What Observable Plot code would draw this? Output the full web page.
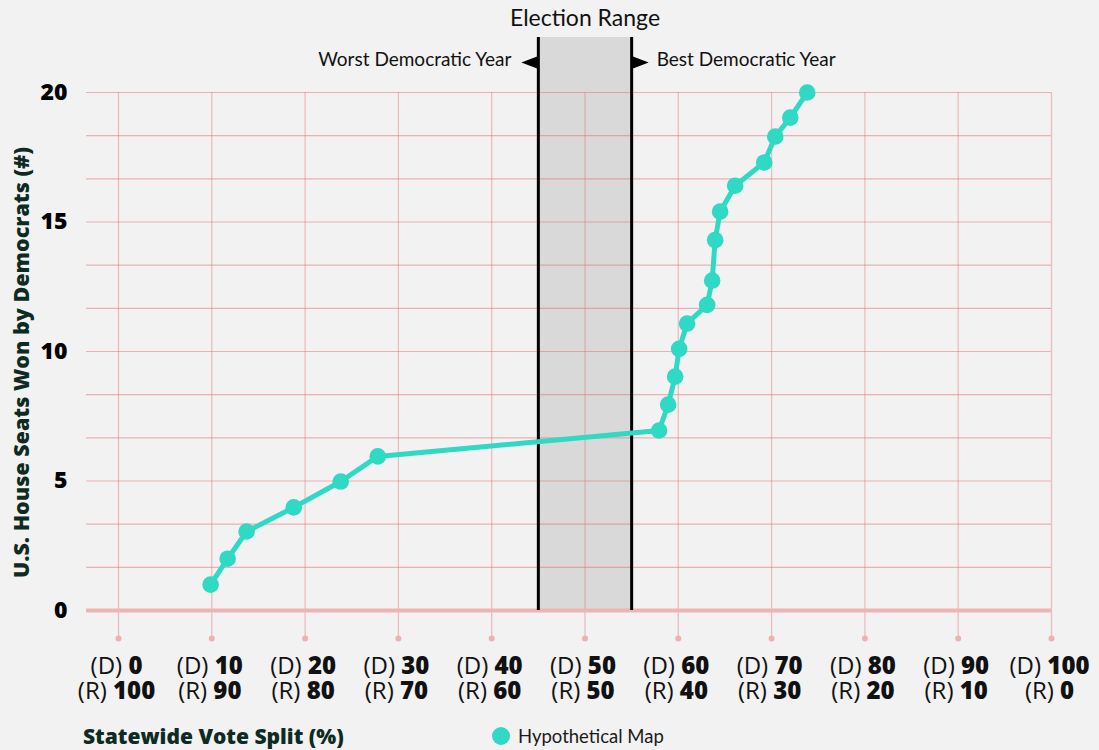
<!DOCTYPE html>
<html>
<head>
<meta charset="utf-8">
<script src="https://cdn.jsdelivr.net/npm/d3@7"></script>
<script src="https://cdn.jsdelivr.net/npm/@observablehq/plot@0.6"></script>
<style>
  html, body { margin: 0; padding: 0; background: #f2f2f2; }
  body { width: 1099px; height: 750px; overflow: hidden; font-family: Lato, "Open Sans", sans-serif; }
  #chart svg { display: block; }
  .footer { position: relative; height: 35px; }
  .xlabel { position: absolute; left: 83px; top: 21px; transform: translateY(-50%); font-family: "Open Sans", sans-serif; font-size: 21px; font-weight: 800; color: #0d2b22; white-space: nowrap; }
  .legend { position: absolute; left: 492px; top: 21px; transform: translateY(-50%); display: flex; align-items: center; font-size: 18.5px; color: #1a1a1a; }
  .legend .sw { width: 18px; height: 18px; border-radius: 50%; background: #2fd9c4; margin-right: 8px; }
</style>
</head>
<body>
<div id="chart"></div>
<div class="footer">
  <div class="xlabel">Statewide Vote Split (%)</div>
  <div class="legend"><span class="sw"></span><span>Hypothetical Map</span></div>
</div>
<script>
// ---- data ----
const seriesName = "Hypothetical Map";
const voteShareD = [9.87, 11.7, 13.73, 18.78, 23.82, 27.79, 57.94, 58.91, 59.66, 60.09, 60.94, 63.09, 63.63, 63.95, 64.48, 66.09, 69.21, 70.39, 72.0, 73.82];
const seatsWon   = [1.0, 2.0, 3.05, 3.98, 4.98, 5.95, 6.95, 7.95, 9.03, 10.1, 11.08, 11.8, 12.74, 14.3, 15.4, 16.4, 17.3, 18.3, 19.03, 20.0];
const xTicks = [0, 10, 20, 30, 40, 50, 60, 70, 80, 90, 100];
const yTicks = [0, 5, 10, 15, 20];
const yGrid  = [0, 5/3, 10/3, 5, 20/3, 25/3, 10, 35/3, 40/3, 15, 50/3, 55/3, 20];
const electionRange = [45, 55];
const rangeTitle = "Election Range";
const worstLabel = "Worst Democratic Year";
const bestLabel  = "Best Democratic Year";
const yLabel = "U.S. House Seats Won by Democrats (#)";

const points = voteShareD.map((v, i) => ({vote: v, seats: seatsWon[i], series: seriesName}));
const teal = "#2fd9c4";
const gridColor = "#e36f6f";
const boldFont = "'Open Sans', sans-serif";

const leftArrow  = {draw(ctx) { ctx.moveTo(-17, 0); ctx.lineTo(0, -6.5); ctx.lineTo(0, 6.5); ctx.closePath(); }};
const rightArrow = {draw(ctx) { ctx.moveTo(17, 0); ctx.lineTo(0, -6.5); ctx.lineTo(0, 6.5); ctx.closePath(); }};

const chart = Plot.plot({
  width: 1099,
  height: 715,
  marginLeft: 118,
  marginRight: 48,
  marginTop: 92,
  marginBottom: 105,
  x: {domain: [0, 100], axis: null},
  y: {domain: [0, 20], axis: null},
  style: {background: "transparent", fontFamily: "Lato, 'Open Sans', sans-serif", overflow: "visible"},
  marks: [
    Plot.rect([electionRange], {x1: d => d[0], x2: d => d[1], fill: "#d9d9d9", insetTop: -55}),
    Plot.ruleY(yGrid, {y: d => d, stroke: gridColor, strokeOpacity: 0.5, strokeWidth: 1.2, insetLeft: -32}),
    Plot.ruleX(xTicks, {x: d => d, stroke: gridColor, strokeOpacity: 0.4, strokeWidth: 1.3, insetBottom: -28}),
    Plot.dot(xTicks, {x: d => d, y: 0, dy: 28, r: 3, fill: "#f0b0b0"}),
    Plot.ruleY([0], {y: d => d, stroke: "#f0b3b3", strokeWidth: 4, insetLeft: -32}),
    Plot.ruleX(electionRange, {x: d => d, stroke: "#000", strokeWidth: 3, insetTop: -55}),
    Plot.dot([electionRange[0]], {x: d => d, frameAnchor: "top", dy: -30, symbol: leftArrow, fill: "#000", stroke: "none", r: 8}),
    Plot.dot([electionRange[1]], {x: d => d, frameAnchor: "top", dy: -30, symbol: rightArrow, fill: "#000", stroke: "none", r: 8}),
    Plot.text([rangeTitle], {x: (electionRange[0] + electionRange[1]) / 2, frameAnchor: "top", lineAnchor: "middle", dy: -74, fontSize: 23, fill: "#111"}),
    Plot.text([worstLabel], {x: electionRange[0], frameAnchor: "top", lineAnchor: "middle", dy: -33, dx: -27, textAnchor: "end", fontSize: 19, fill: "#111"}),
    Plot.text([bestLabel], {x: electionRange[1], frameAnchor: "top", lineAnchor: "middle", dy: -33, dx: 25, textAnchor: "start", fontSize: 19, fill: "#111"}),
    Plot.line(points, {x: "vote", y: "seats", stroke: teal, strokeWidth: 5}),
    Plot.dot(points, {x: "vote", y: "seats", r: 8.3, fill: teal}),
    Plot.axisY(yTicks, {tickSize: 0, tickPadding: 51, fontSize: 23, fontWeight: 800, fontFamily: boldFont, fill: "#000", label: null}),
    Plot.text([yLabel], {frameAnchor: "left", textAnchor: "middle", lineAnchor: "middle", rotate: -90, dx: -96, dy: 11, fontSize: 21.5, fontWeight: 800, fontFamily: boldFont, fill: "#0d2b22"}),
    Plot.text(xTicks, {x: d => d, frameAnchor: "bottom", lineAnchor: "middle", dy: 56, dx: -2, text: d => `(D) ${d}`, fontSize: 24, fontFamily: boldFont, fill: "#111"}),
    Plot.text(xTicks, {x: d => d, frameAnchor: "bottom", lineAnchor: "middle", dy: 81, dx: -2, text: d => `(R) ${100 - d}`, fontSize: 24, fontFamily: boldFont, fill: "#111"})
  ]
});

// bold the numeric part of the two-line tick labels
chart.querySelectorAll("text").forEach(t => {
  const s = t.textContent;
  if (!/^\((D|R)\) \d+$/.test(s)) return;
  const i = s.indexOf(" ");
  t.textContent = "";
  const a = document.createElementNS("http://www.w3.org/2000/svg", "tspan");
  a.textContent = s.slice(0, i + 1);
  a.setAttribute("font-weight", "400");
  const b = document.createElementNS("http://www.w3.org/2000/svg", "tspan");
  b.textContent = s.slice(i + 1);
  b.setAttribute("font-weight", "800");
  t.appendChild(a);
  t.appendChild(b);
});

document.getElementById("chart").appendChild(chart);
</script>
</body>
</html>
